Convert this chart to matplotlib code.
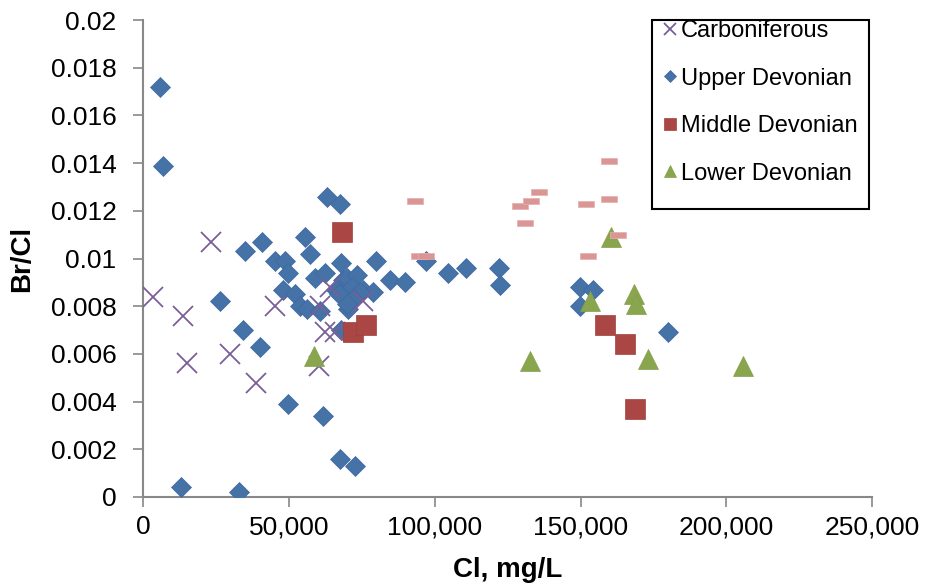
import matplotlib.pyplot as plt
from matplotlib.patches import Rectangle
from matplotlib.ticker import FuncFormatter

plt.rcParams['font.family'] = ['Liberation Sans', 'DejaVu Sans']

# Carboniferous
carb_cl = [3500, 13800, 15000, 23300, 29800, 38900, 45200, 60300, 62300, 65800,
           64000, 60600, 75300]
carb_brcl = [0.0084, 0.0076, 0.0056, 0.0107, 0.0060, 0.0048, 0.0080, 0.0055, 0.0069, 0.0069,
             0.0088, 0.0080, 0.0082]

# Upper Devonian
upper_cl = [5800, 6700, 12900, 33000, 26400, 34200, 34800, 40700, 40000, 45200,
            48600, 49800, 47900, 52000, 53800, 56100, 60600, 55500, 57200, 58900,
            62300, 62900, 67500, 68000, 68600, 69800, 73200, 66300, 71500, 75300,
            78800, 67200, 74300, 72000, 70300, 69800, 68000, 80000, 84600, 89700,
            96900, 104500, 110600, 121900, 122300, 49800, 61800, 67500, 72600,
            149700, 154100, 149700, 179800]
upper_brcl = [0.0172, 0.0139, 0.0004, 0.0002, 0.0082, 0.0070, 0.0103, 0.0107, 0.0063, 0.0099,
              0.0099, 0.0094, 0.0087, 0.0085, 0.0080, 0.0079, 0.0078, 0.0109, 0.0102, 0.0092,
              0.0094, 0.0126, 0.0123, 0.0098, 0.0091, 0.0092, 0.0093, 0.0087, 0.0088, 0.0087,
              0.0086, 0.0085, 0.0086, 0.0083, 0.0079, 0.0081, 0.0070, 0.0099, 0.0091, 0.0090,
              0.0099, 0.0094, 0.0096, 0.0096, 0.0089, 0.0039, 0.0034, 0.0016, 0.0013,
              0.0088, 0.0087, 0.0080, 0.0069]

# Middle Devonian
middle_cl = [68200, 72000, 76600, 158200, 165200, 168600]
middle_brcl = [0.0111, 0.0069, 0.0072, 0.0072, 0.0064, 0.0037]

# Lower Devonian
lower_cl = [58600, 132500, 153100, 160300, 168200, 169000, 173000, 205800]
lower_brcl = [0.0059, 0.0057, 0.0082, 0.0109, 0.0085, 0.0081, 0.0058, 0.0055]

# seawater evaporation reference points
ref_cl = [93200, 94600, 97100, 129100, 132900, 135800, 130800, 151700, 152700,
          159700, 159700, 162800]
ref_brcl = [0.0124, 0.0101, 0.0101, 0.0122, 0.0124, 0.0128, 0.0115, 0.0123, 0.0101,
            0.0141, 0.0125, 0.0110]

dash = [(-1, -0.33), (1, -0.33), (1, 0.33), (-1, 0.33), (-1, -0.33)]

fig = plt.figure(figsize=(9.25, 5.88), dpi=100)
ax = fig.add_axes([0.1546, 0.1548, 0.7885, 0.811])

ax.plot(upper_cl, upper_brcl, 'D', ms=10.4, color='#4572A7', mec='#3F68A0', mew=0.5,
        ls='none', label='Upper Devonian', zorder=3)
ax.plot(carb_cl, carb_brcl, 'x', ms=14, color='#7B5E98', mew=1.3,
        ls='none', label='Carboniferous', zorder=4)
ax.plot(middle_cl, middle_brcl, 's', ms=14.5, color='#AA4643', mec='#A0403D', mew=0.5,
        ls='none', label='Middle Devonian', zorder=5)
ax.plot(lower_cl, lower_brcl, '^', ms=15, color='#89A54E', mec='#83A049', mew=0.5,
        ls='none', label='Lower Devonian', zorder=6)
ax.plot(ref_cl, ref_brcl, marker=dash, ms=11, color='#D99694', mec='#E3B0AE', mew=0.5,
        ls='none', zorder=7)

ax.set_xlim(0, 250000)
ax.set_ylim(0, 0.02)
ax.set_xticks(range(0, 250001, 50000))
ax.set_yticks([i * 0.002 for i in range(11)])
ax.xaxis.set_major_formatter(FuncFormatter(lambda v, p: f'{int(v):,}'))
ax.yaxis.set_major_formatter(FuncFormatter(lambda v, p: f'{v:.3f}'.rstrip('0').rstrip('.') if v else '0'))

for side in ['top', 'right']:
    ax.spines[side].set_visible(False)
for side in ['left', 'bottom']:
    ax.spines[side].set_color('#888888')
    ax.spines[side].set_linewidth(1.5)
ax.tick_params(axis='both', direction='out', length=7, width=1.2, color='#888888',
               labelsize=19)
ax.tick_params(axis='y', pad=12)
ax.tick_params(axis='x', pad=6)

ax.set_xlabel('Cl, mg/L', fontsize=20, fontweight='bold', labelpad=13)
ax.set_ylabel('Br/Cl', fontsize=20, fontweight='bold', labelpad=11)

# legend frame drawn separately so it can sit flush with the top of the axes
ax.add_patch(Rectangle((0.698, 0.604), 0.298, 0.396, transform=ax.transAxes,
                       fill=False, ec='black', lw=1.5, clip_on=False, zorder=10))
handles, labels = ax.get_legend_handles_labels()
order = [1, 0, 2, 3]
ax.legend([handles[i] for i in order], [labels[i] for i in order],
          loc='upper left', bbox_to_anchor=(0.713, 1.0), frameon=False,
          fontsize=17, markerscale=0.6, handlelength=0.55, handletextpad=0.2,
          labelspacing=1.08, borderpad=0, borderaxespad=0)

fig.savefig('out.png', dpi=100)
